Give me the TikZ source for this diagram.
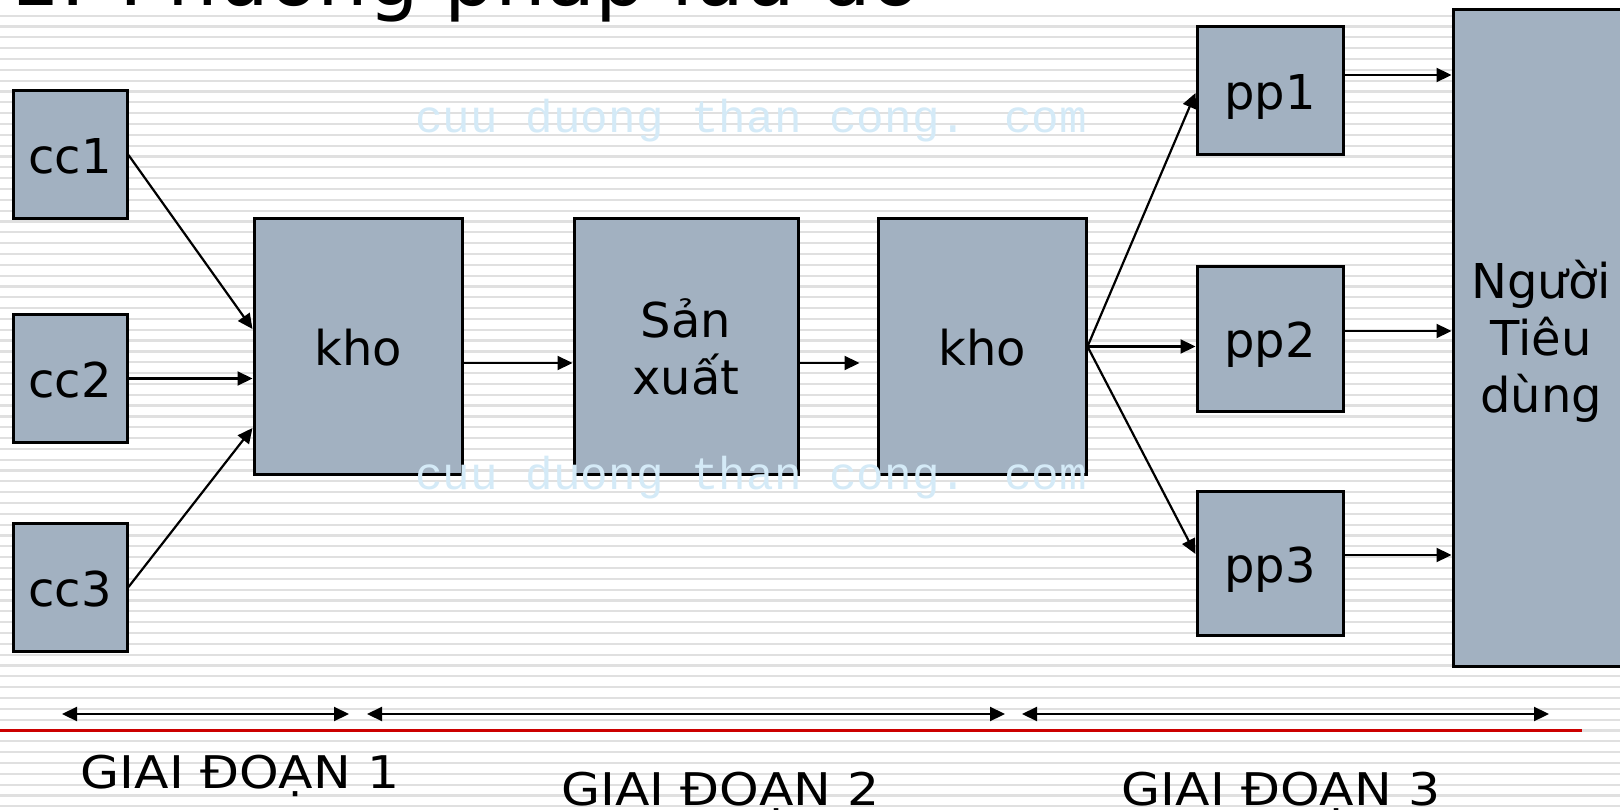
\documentclass[tikz,border=0pt]{standalone}
\usepackage{fontspec}
\setmainfont{DejaVu Sans}
\newfontfamily\wmfont{Liberation Mono}
\usetikzlibrary{arrows.meta}
\definecolor{boxfill}{RGB}{162,177,193}
\definecolor{stripegray}{RGB}{224,224,224}
\definecolor{wmblue}{RGB}{212,234,247}
\definecolor{redline}{RGB}{204,0,0}

\begin{document}
\begin{tikzpicture}[x=1pt,y=-1pt,
	box/.style={draw, line width=3pt, fill=boxfill, inner sep=0pt, align=center, font=\fontsize{48}{57}\selectfont},
	onebox/.style={box, text height=38pt, text depth=0pt},
	arr/.style={line width=2.2pt, -{Triangle[length=15pt,width=14pt]}},
	darr/.style={line width=2.2pt, {Triangle[length=15pt,width=14pt]}-{Triangle[length=15pt,width=14pt]}},
	stage/.style={anchor=base, inner sep=0pt, font=\fontsize{45}{54}\selectfont},
	wm/.style={anchor=base west, inner sep=0pt, text=wmblue, font=\wmfont\fontsize{46}{46}\selectfont}]
\useasboundingbox (0,0) rectangle (1620,810);
\clip (0,0) rectangle (1620,810);
\fill[white] (0,0) rectangle (1620,810);
\foreach \k in {0,...,73}
	\draw[stripegray, line width=2.2pt] (0,{15.7+10.83*\k}) -- (1620,{15.7+10.83*\k});
\node[anchor=base west, inner sep=0pt, font=\fontsize{80}{96}\selectfont] (title) at (9,6) {1. Phương pháp lưu đồ};
	\node[onebox, minimum width=114pt, minimum height=128pt] (cc1) at (70,155) {cc1};
	\node[onebox, minimum width=114pt, minimum height=128pt] (cc2) at (70,378.5) {cc2};
	\node[onebox, minimum width=114pt, minimum height=128pt] (cc3) at (70,587) {cc3};
	\node[onebox, minimum width=208pt, minimum height=255pt] (kho1) at (358,346.5) {kho};
	\node[box, minimum width=224pt, minimum height=255pt] (sx) at (686,346.5) {Sản\\xuất};
	\node[onebox, minimum width=208pt, minimum height=255pt] (kho2) at (982,346.5) {kho};
	\node[onebox, minimum width=146pt, minimum height=128pt] (pp1) at (1270,91) {pp1};
	\node[onebox, minimum width=146pt, minimum height=144pt] (pp2) at (1270,339) {pp2};
	\node[onebox, minimum width=146pt, minimum height=144pt] (pp3) at (1270,563) {pp3};
	\node[box, minimum width=176pt, minimum height=656pt, text height=158pt, text depth=10pt] (ntd) at (1541,338) {Người\\Tiêu\\dùng};
\draw[arr] (cc1.east) -- ([yshift=17.5pt]kho1.west);
\draw[arr] (cc2.east) -- (cc2.east -| kho1.west);
\draw[arr] (cc3.east) -- ([yshift=-81.5pt]kho1.west);
\draw[arr] ([yshift=-16.5pt]kho1.east) -- ([yshift=-16.5pt]kho1.east -| sx.west);
\draw[arr] ([yshift=-16.5pt]sx.east) -- ([xshift=-17pt,yshift=-16.5pt]kho2.west);
\draw[arr] (kho2.east) -- ([yshift=-2pt]pp1.west);
\draw[arr] (kho2.east) -- (kho2.east -| pp2.west);
\draw[arr] (kho2.east) -- ([yshift=9pt]pp3.west);
\draw[arr] ([yshift=16pt]pp1.east) -- ([yshift=16pt]pp1.east -| ntd.west);
\draw[arr] ([yshift=8pt]pp2.east) -- ([yshift=8pt]pp2.east -| ntd.west);
\draw[arr] ([yshift=8pt]pp3.east) -- ([yshift=8pt]pp3.east -| ntd.west);
\node[wm] (wm1) at (415,133) {cuu duong than cong. com};
\node[wm] (wm2) at (415,489) {cuu duong than cong. com};
\coordinate (s1a) at (62,714);
\coordinate (s1b) at (349,714);
\coordinate (s2a) at (367,714);
\coordinate (s2b) at (1005,714);
\coordinate (s3a) at (1022,714);
\coordinate (s3b) at (1549,714);
\draw[darr] (s1a) -- (s1b);
\draw[darr] (s2a) -- (s2b);
\draw[darr] (s3a) -- (s3b);
\draw[redline, line width=3pt] (0,730.5) -- (1582,730.5);
\node[stage] (g1) at (240,788) {\scalebox{1.12}[1]{GIAI ĐOẠN 1}};
\node[stage] (g2) at (720.5,805) {\scalebox{1.12}[1]{GIAI ĐOẠN 2}};
\node[stage] (g3) at (1281,805) {\scalebox{1.12}[1]{GIAI ĐOẠN 3}};
\end{tikzpicture}
\end{document}
